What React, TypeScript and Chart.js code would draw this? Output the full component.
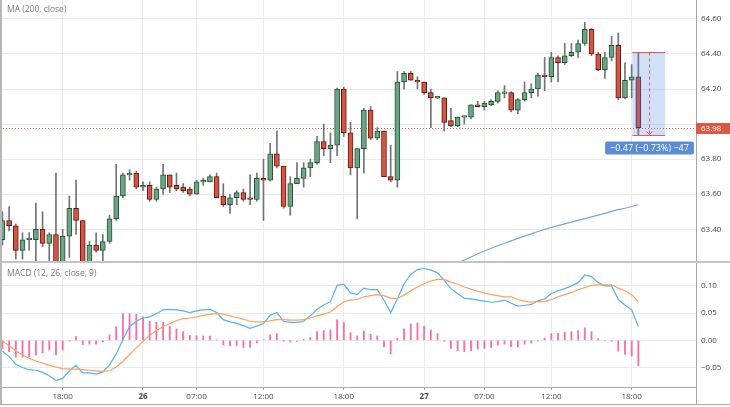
import React, { useEffect, useRef } from "react";
import { Chart, registerables } from "chart.js";

Chart.register(...registerables);

// ---------- data (30-minute candles, index 0 = first visible candle) ----------
const OPEN = [
  63.34, 63.45, 63.42, 63.28, 63.34, 63.34, 63.40, 63.32, 63.37, 63.19,
  63.36, 63.52, 63.45, 63.18, 63.31, 63.28, 63.33, 63.46, 63.59, 63.71,
  63.72, 63.64, 63.65, 63.57, 63.63, 63.71, 63.65, 63.64, 63.63, 63.60,
  63.67, 63.67, 63.70, 63.59, 63.54, 63.58, 63.61, 63.58, 63.57, 63.69,
  63.68, 63.83, 63.76, 63.53, 63.66, 63.69, 63.75, 63.78, 63.90, 63.86,
  63.88, 64.20, 63.95, 63.75, 63.86, 64.08, 63.92, 63.96, 63.70, 63.68,
  64.24, 64.29, 64.25, 64.24, 64.18, 64.15, 64.15, 64.02, 63.99, 64.04,
  64.04, 64.11, 64.10, 64.11, 64.13, 64.175, 64.18, 64.08, 64.14, 64.18,
  64.20, 64.28, 64.27, 64.38, 64.35, 64.39, 64.41, 64.46, 64.54, 64.40,
  64.31, 64.38, 64.45, 64.15, 64.25, 64.27,
];
const HIGH = [
  63.50, 63.53, 63.43, 63.38, 63.38, 63.55, 63.50, 63.38, 63.72, 63.40,
  63.59, 63.68, 63.45, 63.33, 63.38, 63.37, 63.48, 63.77, 63.72, 63.74,
  63.73, 63.67, 63.67, 63.64, 63.77, 63.71, 63.72, 63.66, 63.64, 63.68,
  63.69, 63.71, 63.72, 63.66, 63.60, 63.62, 63.63, 63.71, 63.72, 63.80,
  63.89, 63.96, 63.76, 63.70, 63.78, 63.78, 63.80, 63.93, 64.00, 63.95,
  64.205, 64.21, 64.01, 63.86, 64.09, 64.10, 63.98, 63.96, 63.88, 64.30,
  64.30, 64.30, 64.27, 64.24, 64.20, 64.155, 64.15, 64.09, 64.04, 64.045,
  64.11, 64.13, 64.13, 64.14, 64.19, 64.22, 64.185, 64.145, 64.24, 64.23,
  64.29, 64.38, 64.41, 64.39, 64.46, 64.46, 64.48, 64.58, 64.545, 64.41,
  64.41, 64.50, 64.52, 64.35, 64.34, 64.41,
];
const LOW = [
  63.31, 63.39, 63.23, 63.23, 63.28, 63.21, 63.30, 63.20, 63.15, 63.15,
  63.24, 63.37, 63.15, 63.15, 63.27, 63.21, 63.32, 63.45, 63.58, 63.68,
  63.63, 63.62, 63.56, 63.56, 63.60, 63.61, 63.62, 63.61, 63.59, 63.60,
  63.65, 63.67, 63.58, 63.53, 63.49, 63.54, 63.56, 63.54, 63.56, 63.45,
  63.675, 63.75, 63.52, 63.48, 63.66, 63.64, 63.70, 63.77, 63.82, 63.78,
  63.82, 63.93, 63.71, 63.46, 63.72, 63.91, 63.91, 63.70, 63.67, 63.64,
  64.20, 64.25, 64.20, 64.17, 63.98, 64.145, 63.96, 63.985, 63.985, 64.00,
  64.03, 64.10, 64.08, 64.105, 64.12, 64.15, 64.07, 64.06, 64.13, 64.15,
  64.16, 64.19, 64.24, 64.24, 64.34, 64.385, 64.38, 64.45, 64.39, 64.305,
  64.26, 64.36, 64.14, 64.145, 64.15, 63.94,
];
const CLOSE = [
  63.45, 63.42, 63.28, 63.34, 63.35, 63.40, 63.32, 63.37, 63.19, 63.36,
  63.52, 63.45, 63.18, 63.31, 63.28, 63.33, 63.46, 63.59, 63.71, 63.72,
  63.64, 63.65, 63.57, 63.63, 63.71, 63.64, 63.63, 63.62, 63.60, 63.67,
  63.68, 63.70, 63.58, 63.54, 63.58, 63.61, 63.57, 63.57, 63.69, 63.68,
  63.83, 63.76, 63.53, 63.66, 63.69, 63.75, 63.78, 63.90, 63.86, 63.88,
  64.20, 63.95, 63.75, 63.86, 64.08, 63.92, 63.96, 63.70, 63.68, 64.24,
  64.29, 64.25, 64.24, 64.18, 64.15, 64.155, 64.01, 63.99, 64.04, 64.045,
  64.11, 64.10, 64.12, 64.13, 64.18, 64.18, 64.08, 64.14, 64.18, 64.20,
  64.28, 64.27, 64.38, 64.35, 64.39, 64.41, 64.46, 64.54, 64.40, 64.31,
  64.38, 64.45, 64.15, 64.25, 64.27, 63.98,
];

// MA(200) — only the visible tail, starting at candle index MA_START
const MA_START = 68;
const MA200 = [
  63.208, 63.225, 63.242, 63.26, 63.276, 63.292, 63.306, 63.32, 63.334, 63.348,
  63.361, 63.374, 63.387, 63.399, 63.41, 63.421, 63.431, 63.441, 63.451, 63.461,
  63.471, 63.481, 63.491, 63.502, 63.512, 63.52, 63.53, 63.54,
];

const MACD_LINE = [
  -0.020, -0.030, -0.044, -0.050, -0.054, -0.055, -0.059, -0.065, -0.074, -0.070,
  -0.056, -0.046, -0.060, -0.060, -0.062, -0.058, -0.045, -0.025, 0.001, 0.025,
  0.035, 0.041, 0.043, 0.049, 0.056, 0.057, 0.056, 0.054, 0.051, 0.054,
  0.056, 0.057, 0.051, 0.038, 0.034, 0.031, 0.027, 0.022, 0.026, 0.031,
  0.046, 0.051, 0.035, 0.033, 0.033, 0.035, 0.045, 0.057, 0.065, 0.071,
  0.101, 0.103, 0.087, 0.084, 0.096, 0.093, 0.093, 0.074, 0.051, 0.076,
  0.104, 0.121, 0.130, 0.132, 0.129, 0.124, 0.110, 0.095, 0.086, 0.077,
  0.076, 0.074, 0.072, 0.070, 0.071, 0.074, 0.068, 0.063, 0.064, 0.066,
  0.073, 0.076, 0.086, 0.091, 0.095, 0.100, 0.106, 0.120, 0.117, 0.106,
  0.100, 0.100, 0.075, 0.065, 0.056, 0.025,
];
const SIGNAL_LINE = [
  -0.001, -0.010, -0.019, -0.027, -0.033, -0.038, -0.042, -0.046, -0.049, -0.052,
  -0.053, -0.053, -0.054, -0.055, -0.056, -0.057, -0.056, -0.049, -0.039, -0.026,
  -0.014, -0.002, 0.009, 0.018, 0.025, 0.031, 0.036, 0.040, 0.041, 0.043,
  0.046, 0.048, 0.049, 0.048, 0.045, 0.042, 0.039, 0.035, 0.034, 0.034,
  0.036, 0.038, 0.038, 0.037, 0.037, 0.038, 0.041, 0.045, 0.048, 0.052,
  0.062, 0.071, 0.074, 0.075, 0.080, 0.082, 0.084, 0.082, 0.077, 0.077,
  0.083, 0.091, 0.098, 0.104, 0.109, 0.112, 0.112, 0.107, 0.103, 0.098,
  0.094, 0.090, 0.087, 0.084, 0.082, 0.080, 0.080, 0.075, 0.072, 0.070,
  0.071, 0.071, 0.075, 0.080, 0.084, 0.088, 0.093, 0.097, 0.101, 0.102,
  0.102, 0.102, 0.096, 0.091, 0.084, 0.071,
];
const HISTOGRAM = [
  -0.015, -0.021, -0.031, -0.031, -0.030, -0.027, -0.023, -0.018, -0.027, -0.018,
  -0.002, 0.007, -0.008, -0.007, -0.007, -0.003, 0.010, 0.025, 0.049, 0.049,
  0.048, 0.043, 0.035, 0.033, 0.033, 0.026, 0.021, 0.016, 0.009, 0.0085,
  0.008, 0.008, 0.001, -0.0085, -0.010, -0.010, -0.013, -0.013, -0.005, 0.001,
  0.010, 0.012, -0.002, -0.003, -0.002, 0.002, 0.005, 0.016, 0.018, 0.019,
  0.038, 0.033, 0.014, 0.008, 0.017, 0.011, 0.008, -0.012, -0.025, 0.004,
  0.021, 0.030, 0.032, 0.026, 0.019, 0.012, -0.002, -0.015, -0.019, -0.021,
  -0.019, -0.016, -0.015, -0.013, -0.009, -0.007, -0.012, -0.012, -0.007, -0.005,
  -0.001, 0.004, 0.012, 0.013, 0.015, 0.016, 0.018, 0.023, 0.016, 0.003,
  -0.001, -0.002, -0.020, -0.026, -0.029, -0.047,
];

const TIME_TICKS = [9, 21, 29, 39, 51, 63, 72, 82, 94];
const TIME_LABELS = ["18:00", "26", "07:00", "12:00", "18:00", "27", "07:00", "12:00", "18:00"];
const PRICE_TICKS = [63.4, 63.6, 63.8, 64.0, 64.2, 64.4, 64.6];
const MACD_TICKS = [-0.05, 0, 0.05, 0.1];

const LAST_PRICE = 63.98;
const MEASURE_FROM = 94.1;
const MEASURE_TO = 99;
const MEASURE_HIGH = 64.41;
const MEASURE_LOW = 63.94;
const MEASURE_TEXT = "\u22120.47 (\u22120.73%) \u221247";

// ---------- view / style ----------
const X_MIN = -0.36;
const X_MAX = 103.61;
const PRICE_MIN = 63.219;
const PRICE_MAX = 64.708;
const MACD_MIN = -0.0858;
const MACD_MAX = 0.1421;

const FONT = '"Open Sans", "Noto Sans", sans-serif';
const UP_FILL = "#6ba583";
const UP_BORDER = "#225437";
const DOWN_FILL = "#d75442";
const DOWN_BORDER = "#5b1a13";
const WICK = "#737375";
const GRID = "#ebebeb";
const AXIS = "#a8a8a8";
const TEXT = "#4a4a4a";

const fmtSigned = (v: number) => (v < 0 ? "\u2212" : "") + Math.abs(v).toFixed(2);
// price labels hidden where the last-price tag sits over them
const fmtPrice = (v: number) => (Math.abs(v - LAST_PRICE) < 0.05 ? "" : v.toFixed(2));

const noPad = (axis: any) => {
  axis.paddingTop = 0;
  axis.paddingBottom = 0;
  axis.paddingLeft = 0;
  axis.paddingRight = 0;
};

export default function App() {
  const topRef = useRef<HTMLCanvasElement>(null);
  const botRef = useRef<HTMLCanvasElement>(null);

  useEffect(() => {
    const idx = OPEN.map((_, i) => i);
    const up = (i: number) => CLOSE[i] >= OPEN[i];

    const xScaleBase = (showTicks: boolean) => ({
      type: "linear" as const,
      min: X_MIN,
      max: X_MAX,
      offset: false,
      afterBuildTicks: (axis: any) => {
        axis.ticks = TIME_TICKS.map((v) => ({ value: v }));
      },
      grid: {
        offset: false,
        color: GRID,
        drawTicks: showTicks,
        tickLength: 3,
        tickColor: AXIS,
      },
      border: { display: showTicks, color: AXIS },
      ticks: {
        display: showTicks,
        autoSkip: false,
        maxRotation: 0,
        padding: 2,
        color: TEXT,
        callback: (v: any) => {
          const k = TIME_TICKS.indexOf(Number(v));
          return k >= 0 ? TIME_LABELS[k] : "";
        },
        font: (c: any) => {
          const k = c.tick ? TIME_TICKS.indexOf(c.tick.value) : -1;
          const bold = k >= 0 && !TIME_LABELS[k].includes(":");
          return { family: FONT, size: 8, weight: bold ? "bold" : "normal" };
        },
      },
      afterFit: (axis: any) => {
        axis.height = showTicks ? 20 : 0;
        noPad(axis);
      },
    });

    const yAxisBase = (min: number, max: number, ticks: number[], fmt: (v: number) => string) => ({
      type: "linear",
      position: "right",
      min,
      max,
      beginAtZero: false,
      afterBuildTicks: (axis: any) => {
        axis.ticks = ticks.map((v) => ({ value: v }));
      },
      afterFit: (axis: any) => {
        axis.width = 34;
        noPad(axis);
      },
      grid: { color: GRID, drawTicks: false },
      border: { display: true, color: AXIS },
      ticks: {
        padding: 5,
        color: TEXT,
        font: { family: FONT, size: 8 },
        callback: (v: any) => fmt(Number(v)),
      },
    });

    const topPlugin = {
      id: "topDecor",
      beforeDatasetsDraw(chart: any) {
        const { ctx, chartArea: a, scales } = chart;
        const py = Math.round(scales.y.getPixelForValue(LAST_PRICE)) + 0.5;
        ctx.save();
        ctx.strokeStyle = "#e05a50";
        ctx.lineWidth = 1;
        ctx.setLineDash([1, 2]);
        ctx.beginPath();
        ctx.moveTo(a.left, py);
        ctx.lineTo(a.right, py);
        ctx.stroke();
        ctx.restore();
      },
      afterDatasetsDraw(chart: any) {
        const { ctx, scales } = chart;
        const x1 = scales.x.getPixelForValue(MEASURE_FROM);
        const x2 = scales.x.getPixelForValue(MEASURE_TO);
        const y1 = Math.round(scales.y.getPixelForValue(MEASURE_HIGH)) + 0.5;
        const y2 = Math.round(scales.y.getPixelForValue(MEASURE_LOW)) + 0.5;
        const mx = Math.round((x1 + x2) / 2) + 0.5;
        ctx.save();
        ctx.fillStyle = "rgba(66,133,230,0.25)";
        ctx.fillRect(x1, y1, x2 - x1, y2 - y1);
        ctx.strokeStyle = "#f05454";
        ctx.lineWidth = 1;
        ctx.beginPath();
        ctx.moveTo(x1, y1);
        ctx.lineTo(x2, y1);
        ctx.moveTo(x1, y2);
        ctx.lineTo(x2, y2);
        ctx.stroke();
        ctx.setLineDash([3, 3]);
        ctx.beginPath();
        ctx.moveTo(mx, y1);
        ctx.lineTo(mx, y2);
        ctx.stroke();
        ctx.setLineDash([]);
        ctx.beginPath();
        ctx.moveTo(mx - 3, y2 - 4);
        ctx.lineTo(mx, y2 - 1);
        ctx.lineTo(mx + 3, y2 - 4);
        ctx.stroke();

        // measurement label
        ctx.font = `9px ${FONT}`;
        const tw = ctx.measureText(MEASURE_TEXT).width;
        const bw = tw + 10;
        const bh = 13;
        const bx = mx - bw / 2;
        const by = y2 + 6;
        ctx.fillStyle = "#5b8dd6";
        ctx.beginPath();
        (ctx as any).roundRect(bx, by, bw, bh, 2);
        ctx.fill();
        ctx.fillStyle = "#ffffff";
        ctx.textAlign = "center";
        ctx.textBaseline = "middle";
        ctx.fillText(MEASURE_TEXT, mx, by + bh / 2 + 0.5);
        ctx.restore();
      },
      afterDraw(chart: any) {
        const { ctx, chartArea: a, scales, width } = chart;
        ctx.save();
        // legend
        ctx.font = `8.5px ${FONT}`;
        ctx.fillStyle = "#7c7c7c";
        ctx.textAlign = "left";
        ctx.textBaseline = "middle";
        ctx.fillText("MA (200, close)", 7, 10);
        // last price tag
        const py = Math.round(scales.y.getPixelForValue(LAST_PRICE));
        ctx.fillStyle = "#dc5843";
        ctx.fillRect(a.right, py - 5, width - a.right, 11);
        ctx.fillStyle = "#ffffff";
        ctx.font = `8px ${FONT}`;
        ctx.fillText(LAST_PRICE.toFixed(2), a.right + 5, py + 0.5);
        // frame
        ctx.fillStyle = "#b8b8b8";
        ctx.fillRect(0, 0, 2, chart.height);
        ctx.fillStyle = "#c4c4c4";
        ctx.fillRect(0, a.bottom, width, 2);
        ctx.restore();
      },
    };

    const botPlugin = {
      id: "botDecor",
      afterDraw(chart: any) {
        const { ctx, chartArea: a, width } = chart;
        ctx.save();
        ctx.font = `8.5px ${FONT}`;
        ctx.fillStyle = "#7c7c7c";
        ctx.textAlign = "left";
        ctx.textBaseline = "middle";
        ctx.fillText("MACD (12, 26, close, 9)", 7, 11);
        ctx.fillStyle = "#b8b8b8";
        ctx.fillRect(0, 0, 2, 142);
        ctx.fillStyle = AXIS;
        ctx.fillRect(Math.round(a.right), a.bottom, 1, 142 - a.bottom);
        ctx.fillRect(0, 141, width, 1);
        ctx.restore();
      },
    };

    const top = new Chart(topRef.current as HTMLCanvasElement, {
      type: "bar",
      data: {
        datasets: [
          {
            type: "bar",
            data: idx.map((i) => ({ x: i, y: [OPEN[i], CLOSE[i]] })) as any,
            backgroundColor: idx.map((i) => (up(i) ? UP_FILL : DOWN_FILL)),
            borderColor: idx.map((i) => (up(i) ? UP_BORDER : DOWN_BORDER)),
            borderWidth: 1,
            borderSkipped: false,
            barThickness: 5,
            minBarLength: 1.5,
            grouped: false,
            order: 0,
            clip: 0,
          } as any,
          {
            type: "bar",
            data: idx.map((i) => ({ x: i, y: [LOW[i], HIGH[i]] })) as any,
            backgroundColor: WICK,
            borderWidth: 0,
            barThickness: 1,
            grouped: false,
            order: 1,
            clip: 0,
          } as any,
          {
            type: "line",
            data: MA200.map((v, k) => ({ x: MA_START + k, y: v })) as any,
            borderColor: "#6fa8dc",
            borderWidth: 1.2,
            pointRadius: 0,
            tension: 0,
            order: 2,
            clip: 0,
          } as any,
        ],
      },
      options: {
        responsive: false,
        animation: false,
        events: [],
        layout: { padding: { top: 0, left: 0, right: 0, bottom: 2 } },
        plugins: { legend: { display: false }, tooltip: { enabled: false } },
        scales: {
          x: xScaleBase(false) as any,
          y: yAxisBase(PRICE_MIN, PRICE_MAX, PRICE_TICKS, fmtPrice) as any,
        },
      },
      plugins: [topPlugin],
    });

    const bot = new Chart(botRef.current as HTMLCanvasElement, {
      type: "bar",
      data: {
        datasets: [
          {
            type: "line",
            data: SIGNAL_LINE.map((v, i) => ({ x: i, y: v })) as any,
            borderColor: "#ff9f5a",
            borderWidth: 1.2,
            pointRadius: 0,
            tension: 0,
            order: 0,
            clip: 0,
          } as any,
          {
            type: "line",
            data: MACD_LINE.map((v, i) => ({ x: i, y: v })) as any,
            borderColor: "#55b1f6",
            borderWidth: 1.2,
            pointRadius: 0,
            tension: 0,
            order: 1,
            clip: 0,
          } as any,
          {
            type: "bar",
            data: HISTOGRAM.map((v, i) => ({ x: i, y: v })) as any,
            backgroundColor: "#fa6ea9",
            borderWidth: 0,
            barThickness: 1.2,
            grouped: false,
            order: 2,
            clip: 0,
          } as any,
        ],
      },
      options: {
        responsive: false,
        animation: false,
        events: [],
        layout: { padding: 0 },
        plugins: { legend: { display: false }, tooltip: { enabled: false } },
        scales: {
          x: xScaleBase(true) as any,
          y: yAxisBase(MACD_MIN, MACD_MAX, MACD_TICKS, fmtSigned) as any,
        },
      },
      plugins: [botPlugin],
    });

    return () => {
      top.destroy();
      bot.destroy();
    };
  }, []);

  return (
    <div
      style={{
        position: "fixed",
        left: 0,
        top: 0,
        width: 730,
        height: 407,
        background: "#ffffff",
        overflow: "hidden",
      }}
    >
      <canvas ref={topRef} width={730} height={263} style={{ display: "block" }} />
      <canvas ref={botRef} width={730} height={144} style={{ display: "block" }} />
    </div>
  );
}
